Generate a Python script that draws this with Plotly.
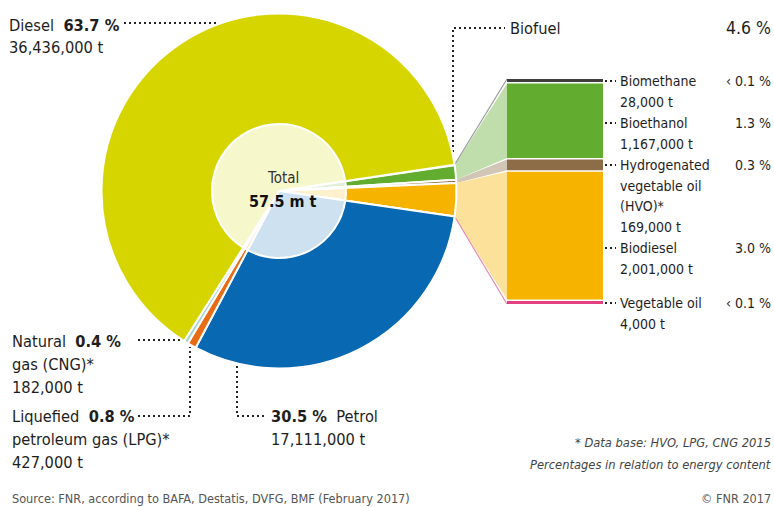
import math
import plotly.graph_objects as go

# ---------------- data ----------------
bio_labels = ["Biomethane", "Bioethanol", "Hydrogenated<br>vegetable oil<br>(HVO)*", "Biodiesel", "Vegetable oil"]
bio_share = [0.05, 1.3, 0.3, 3.0, 0.01]          # % of energy content
bio_share_text = ["‹ 0.1 %", "1.3 %", "0.3 %", "3.0 %", "‹ 0.1 %"]
bio_tonnes = [28000, 1167000, 169000, 2001000, 4000]

fossil_labels = ["Petrol", "LPG", "CNG", "Diesel"]
fossil_share = [30.5, 0.8, 0.4, 63.7]
fossil_tonnes = [17111000, 427000, 182000, 36436000]

biofuel_total_text = "4.6 %"
total_text = "57.5 m t"

# ---------------- styles / layout constants ----------------
W, H = 774, 507
CX, CY, R = 279.0, 191.0, 177.5      # pie centre & radius (px)
RI = 67.0                             # inner light disc radius
ROT = 81.5                            # start angle of first slice (deg, clockwise from 12 o'clock)

bio_colors = ["#3e3e3a", "#62ad2f", "#8c6d47", "#f6b400", "#e2407f"]
fossil_colors = ["#0868b2", "#e96b16", "#a5d5d0", "#d7d500"]

FONT = "DejaVu Sans Condensed, Roboto, sans-serif"
TXT = "#1e1e1e"
LS, RS = 16.3, 14.0                   # left / right label font sizes


def mix(hexc, f):
    h = hexc.lstrip("#")
    r, g, b = (int(h[i:i + 2], 16) for i in (0, 2, 4))
    r, g, b = (round(c * (1 - f) + 255 * f) for c in (r, g, b))
    return f"rgb({r},{g},{b})"


labels = bio_labels + fossil_labels
values = bio_share + fossil_share
colors = bio_colors + fossil_colors

fig = go.Figure()

fig.update_layout(
    width=W, height=H, margin=dict(l=0, r=0, t=0, b=0),
    paper_bgcolor="white", plot_bgcolor="white", showlegend=False,
    xaxis=dict(range=[0, W], visible=False, fixedrange=True, domain=[0, 1]),
    yaxis=dict(range=[H, 0], visible=False, fixedrange=True, domain=[0, 1]),
    barmode="overlay",
    font=dict(family=FONT, color=TXT),
)

# ----- connectors between pie and biofuel bar -----
total = sum(values)


def rim(frac_cum):
    th = math.radians(ROT + 360.0 * frac_cum / total)
    return CX + R * math.sin(th), CY - R * math.cos(th)


BAR_TOP, BAR_BOT = 79.0, 304.0
BAR_X0, BAR_X1 = 507.0, 603.0
MIN_PX, GAP_PX = 3.0, 1.5
k = sum(t for t in bio_tonnes if t > 100000) / (
    (BAR_BOT - BAR_TOP) - GAP_PX * (len(bio_tonnes) - 1)
    - sum(MIN_PX for t in bio_tonnes if t <= 100000))
disp = [max(t, MIN_PX * k) for t in bio_tonnes]
bases = []
acc = 0.0
for d in disp:
    bases.append(acc)
    acc += d + GAP_PX * k


def ypx(tonne_val):
    return BAR_TOP + tonne_val / k


cum = 0.0
light = [mix(c, 0.6) for c in bio_colors]
for i, v in enumerate(bio_share):
    x0, y0 = rim(cum)
    x1, y1 = rim(cum + v)
    cum += v
    yt, yb = ypx(bases[i]), ypx(bases[i] + disp[i])
    if bio_tonnes[i] > 100000:
        fig.add_trace(go.Scatter(x=[x0, BAR_X0, BAR_X0, x1, x0], y=[y0, yt, yb, y1, y0],
                                 mode="lines", fill="toself", fillcolor=light[i],
                                 line=dict(width=0), hoverinfo="skip"))
x0, y0 = rim(0)
fig.add_trace(go.Scatter(x=[x0, BAR_X0], y=[y0, BAR_TOP], mode="lines",
                         line=dict(color="#9a9a9a", width=1.2), hoverinfo="skip"))
x1, y1 = rim(sum(bio_share))
fig.add_trace(go.Scatter(x=[x1, BAR_X0], y=[y1, BAR_BOT], mode="lines",
                         line=dict(color="#e889b4", width=1.2), hoverinfo="skip"))

# ----- biofuel stacked bar (tonnes scale) -----
for i in range(len(bio_tonnes)):
    fig.add_trace(go.Bar(x=[(BAR_X0 + BAR_X1) / 2], y=[disp[i]], base=[bases[i]],
                         width=BAR_X1 - BAR_X0, yaxis="y2",
                         marker=dict(color=bio_colors[i], line=dict(width=0)),
                         hoverinfo="skip"))
fig.update_layout(yaxis2=dict(overlaying="y", visible=False, fixedrange=True,
                              range=[(H - BAR_TOP) * k, -BAR_TOP * k]))

# ----- dotted leader lines -----
leaders = [
    [(124, 23), (218, 23)],
    [(453, 162), (453, 28), (505, 28)],
    [(138, 340), (180, 340)],
    [(138, 416), (190, 416), (190, 347)],
    [(237, 366), (237, 416), (266, 416)],
]
label_y = [81, 123, 165, 248, 303]
for y in label_y:
    leaders.append([(605, y), (616, y)])
for pts in leaders:
    fig.add_trace(go.Scatter(x=[p[0] for p in pts], y=[p[1] for p in pts], mode="lines",
                             line=dict(color="#222", width=2, dash="2px,3px"),
                             hoverinfo="skip"))

# ----- pies -----
fig.add_trace(go.Pie(
    labels=labels, values=values, sort=False, direction="clockwise", rotation=ROT,
    marker=dict(colors=colors, line=dict(color="white", width=2)),
    textinfo="none", hoverinfo="label+percent",
    domain=dict(x=[(CX - R) / W, (CX + R) / W], y=[1 - (CY + R) / H, 1 - (CY - R) / H]),
))
fig.add_trace(go.Pie(
    labels=labels, values=values, sort=False, direction="clockwise", rotation=ROT,
    marker=dict(colors=[mix(c, 0.8) for c in colors], line=dict(color="white", width=2)),
    textinfo="none", hoverinfo="skip",
    domain=dict(x=[(CX - RI) / W, (CX + RI) / W], y=[1 - (CY + RI) / H, 1 - (CY - RI) / H]),
))

# ----- text -----
ann = []


def T(x, y, text, size=17, anchor="left", color=TXT, italic=False):
    ann.append(dict(x=x, y=y, xref="x", yref="y", text=text, showarrow=False,
                    xanchor=anchor, yanchor="middle", align=anchor,
                    font=dict(size=size, color=color, family=FONT,
                              style="italic" if italic else "normal")))


def fmt_t(t):
    return f"{t:,} t"


T(7, 25, f"Diesel  <b>{fossil_share[3]} %</b>", LS)
T(7, 47, fmt_t(fossil_tonnes[3]), LS)
T(10, 341, f"Natural  <b>{fossil_share[2]} %</b>", LS)
T(10, 364, "gas (CNG)*", LS)
T(10, 387, fmt_t(fossil_tonnes[2]), LS)
T(10, 416, f"Liquefied  <b>{fossil_share[1]} %</b>", LS)
T(10, 439, "petroleum gas (LPG)*", LS)
T(10, 462, fmt_t(fossil_tonnes[1]), LS)
T(269, 416, f"<b>{fossil_share[0]} %</b>  {fossil_labels[0]}", LS)
T(269, 439, fmt_t(fossil_tonnes[0]), LS)

T(508, 28, "Biofuel", LS)
T(773, 28, biofuel_total_text, 17.5, anchor="right")
for i in range(len(bio_labels)):
    lines = bio_labels[i].split("<br>")
    for j, ln in enumerate(lines + [fmt_t(bio_tonnes[i])]):
        T(618, label_y[i] + 20.5 * j, ln, RS)
    T(773, label_y[i], bio_share_text[i], RS, anchor="right")

T(283, 178, "Total", 15, color="#333")
ann[-1]["xanchor"] = "center"
T(283, 201, f"<b>{total_text}</b>", 16, color="#111")
ann[-1]["xanchor"] = "center"

T(773, 442, "* Data base: HVO, LPG, CNG 2015", 12.8, anchor="right", color="#444", italic=True)
T(773, 464, "Percentages in relation to energy content", 12.8, anchor="right", color="#444", italic=True)
T(10, 498, "Source: FNR, according to BAFA, Destatis, DVFG, BMF (February 2017)", 12.6, color="#555")
T(773, 498, "© FNR 2017", 12.6, anchor="right", color="#555")

fig.update_layout(annotations=ann)
fig.write_html("out.html", config={"displayModeBar": False},
               post_script="document.body.style.margin='0';document.body.style.overflow='hidden';")
